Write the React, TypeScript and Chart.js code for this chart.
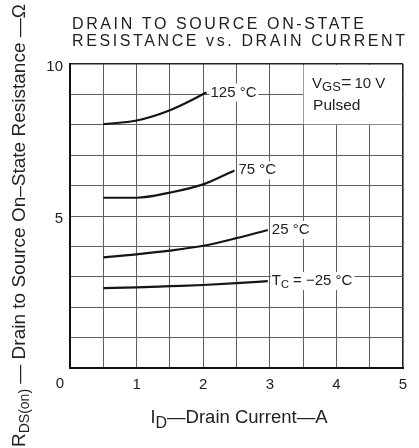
import { useEffect, useRef } from 'react';
import { Chart, registerables } from 'chart.js';

Chart.register(...registerables);

// ---- data ----
const xTickValues = [1, 2, 3, 4, 5];
const yTickValues = [5, 10];
const cornerLabel = '0';

const tc125X = [0.5, 1, 1.5, 2.05];
const tc125Y = [8.02, 8.14, 8.48, 9.06];
const tc75X = [0.5, 1, 1.5, 2, 2.47];
const tc75Y = [5.6, 5.6, 5.77, 6.04, 6.5];
const tc25X = [0.5, 1, 1.5, 2, 2.5, 2.97];
const tc25Y = [3.64, 3.74, 3.86, 4.02, 4.27, 4.54];
const tcm25X = [0.5, 1, 1.5, 2, 2.5, 2.97];
const tcm25Y = [2.63, 2.65, 2.69, 2.73, 2.79, 2.86];

const seriesNames = ['125 °C', '75 °C', '25 °C', 'Tc = −25 °C'];
const titleLines = ['DRAIN TO SOURCE ON-STATE', 'RESISTANCE vs. DRAIN CURRENT'];

const FONT = '"Liberation Sans", Arial, Helvetica, sans-serif';
const INK = '#222';

type Piece = { t: string; size: number; dy: number };

function drawPieces(ctx: CanvasRenderingContext2D, pieces: Piece[], x: number, y: number) {
  let cx = x;
  for (const p of pieces) {
    ctx.font = `${p.size}px ${FONT}`;
    ctx.fillText(p.t, cx, y + p.dy);
    cx += ctx.measureText(p.t).width;
  }
  return cx - x;
}
function measurePieces(ctx: CanvasRenderingContext2D, pieces: Piece[]) {
  let w = 0;
  for (const p of pieces) {
    ctx.font = `${p.size}px ${FONT}`;
    w += ctx.measureText(p.t).width;
  }
  return w;
}

const labelPieces: Piece[][] = [
  [{ t: '125 °C', size: 15, dy: 0 }],
  [{ t: '75 °C', size: 15, dy: 0 }],
  [{ t: '25 °C', size: 15, dy: 0 }],
  [
    { t: 'T', size: 15, dy: 0 },
    { t: 'C', size: 11, dy: 3 },
    { t: ' = −25 °C', size: 15, dy: 0 },
  ],
];

const decor = {
  id: 'decor',
  beforeDatasetsDraw(chart: any) {
    const ctx: CanvasRenderingContext2D = chart.ctx;
    const xs = chart.scales.x;
    const ys = chart.scales.y;
    ctx.save();
    ctx.fillStyle = '#fff';
    // VGS box (covers grid inside upper-right cell block)
    const bx0 = xs.getPixelForValue(3.5) + 0.5;
    const bx1 = xs.getPixelForValue(5) - 1;
    const by0 = ys.getPixelForValue(10) + 1;
    const by1 = ys.getPixelForValue(8) - 0.5;
    ctx.fillRect(bx0, by0, bx1 - bx0, by1 - by0);
    // label backgrounds
    chart.data.datasets.forEach((ds: any, i: number) => {
      const last = ds.data[ds.data.length - 1];
      const px = xs.getPixelForValue(last.x) + 4;
      const py = ys.getPixelForValue(last.y) + 4;
      const w = measurePieces(ctx, labelPieces[i]);
      ctx.fillStyle = '#fff';
      ctx.fillRect(px - 1, py - 13, w + 3, 18);
    });
    ctx.restore();
  },
  afterDatasetsDraw(chart: any) {
    const ctx: CanvasRenderingContext2D = chart.ctx;
    const xs = chart.scales.x;
    const ys = chart.scales.y;
    const area = chart.chartArea;
    ctx.save();
    ctx.fillStyle = INK;
    ctx.textBaseline = 'alphabetic';
    ctx.textAlign = 'left';
    chart.data.datasets.forEach((ds: any, i: number) => {
      const last = ds.data[ds.data.length - 1];
      const px = xs.getPixelForValue(last.x) + 4;
      const py = ys.getPixelForValue(last.y) + 4;
      drawPieces(ctx, labelPieces[i], px, py);
    });
    // VGS text
    const vx = xs.getPixelForValue(3.5) + 9;
    drawPieces(
      ctx,
      [
        { t: 'V', size: 15, dy: 0 },
        { t: 'GS', size: 13, dy: 3 },
        { t: '=', size: 18, dy: 0 },
        { t: '\u200910 V', size: 15, dy: 0 },
      ],
      vx,
      area.top + 24
    );
    drawPieces(ctx, [{ t: 'Pulsed', size: 15.5, dy: 0 }], vx + 1, area.top + 46);

    // corner "0"
    ctx.font = `15px ${FONT}`;
    ctx.textAlign = 'center';
    ctx.fillText(cornerLabel, area.left - 10, area.bottom + 20);

    // title
    ctx.textAlign = 'left';
    ctx.font = `16px ${FONT}`;
    (ctx as any).letterSpacing = '2.6px';
    ctx.fillText(titleLines[0], 72, 29);
    ctx.fillText(titleLines[1], 72, 46);
    (ctx as any).letterSpacing = '0px';

    // x axis title
    const xt: Piece[] = [
      { t: 'I', size: 18, dy: 0 },
      { t: 'D', size: 16, dy: 5 },
      { t: '—Drain Current—A', size: 18.5, dy: 0 },
    ];
    const xw = measurePieces(ctx, xt);
    drawPieces(ctx, xt, 239 - xw / 2, area.bottom + 55);

    // y axis title (rotated)
    const yt: Piece[] = [
      { t: 'R', size: 19, dy: 0 },
      { t: 'DS(on)', size: 14, dy: 4 },
      { t: ' — Drain to Source On–State Resistance —Ω', size: 19, dy: 0 },
    ];
    ctx.translate(25, 447);
    ctx.rotate(-Math.PI / 2);
    drawPieces(ctx, yt, 0, 0);
    ctx.restore();
  },
};

export default function App() {
  const ref = useRef<HTMLCanvasElement>(null);
  useEffect(() => {
    const canvas = ref.current!;
    const mk = (xs: number[], ys: number[]) => xs.map((x, i) => ({ x, y: ys[i] }));
    const series = [mk(tc125X, tc125Y), mk(tc75X, tc75Y), mk(tc25X, tc25Y), mk(tcm25X, tcm25Y)];
    const chart = new Chart(canvas, {
      type: 'line',
      data: {
        datasets: series.map((d, i) => ({
          label: seriesNames[i],
          data: d,
          borderColor: '#151515',
          borderWidth: 2.2,
          pointRadius: 0,
          cubicInterpolationMode: 'monotone' as const,
          fill: false,
        })),
      },
      options: {
        animation: false,
        responsive: false,
        devicePixelRatio: 1,
        layout: { padding: { left: 0, right: 16, top: 64, bottom: 0 } },
        plugins: {
          legend: { display: false },
          title: { display: false },
          tooltip: { enabled: false },
        },
        scales: {
          x: {
            type: 'linear',
            min: 0,
            max: 5,
            afterFit: (s: any) => {
              s.height = 80;
            },
            ticks: {
              stepSize: 0.5,
              autoSkip: false,
              maxRotation: 0,
              padding: 8,
              color: INK,
              font: { family: FONT, size: 15 },
              callback: (v: any) => (xTickValues.includes(Number(v)) ? String(v) : ''),
            },
            grid: {
              drawTicks: false,
              color: (c: any) => (c.tick && c.tick.value === 5 ? '#222' : '#5e5e5e'),
              lineWidth: (c: any) => (c.tick && c.tick.value === 5 ? 1.6 : 1),
            },
            border: { color: '#111', width: 2 },
          },
          y: {
            type: 'linear',
            min: 0,
            max: 10,
            afterFit: (s: any) => {
              s.width = 70;
            },
            ticks: {
              stepSize: 1,
              padding: 7,
              labelOffset: 3,
              color: INK,
              font: { family: FONT, size: 15 },
              callback: (v: any) => (yTickValues.includes(Number(v)) ? String(v) : ''),
            },
            grid: {
              drawTicks: false,
              color: (c: any) => (c.tick && c.tick.value === 10 ? '#222' : '#5e5e5e'),
              lineWidth: (c: any) => (c.tick && c.tick.value === 10 ? 1.6 : 1),
            },
            border: { color: '#111', width: 2 },
          },
        },
      },
      plugins: [decor],
    });
    return () => chart.destroy();
  }, []);
  return (
    <div style={{ position: 'fixed', left: 0, top: 0, width: 419, height: 448, background: '#fff' }}>
      <canvas ref={ref} width={419} height={448} style={{ display: 'block' }} />
    </div>
  );
}
